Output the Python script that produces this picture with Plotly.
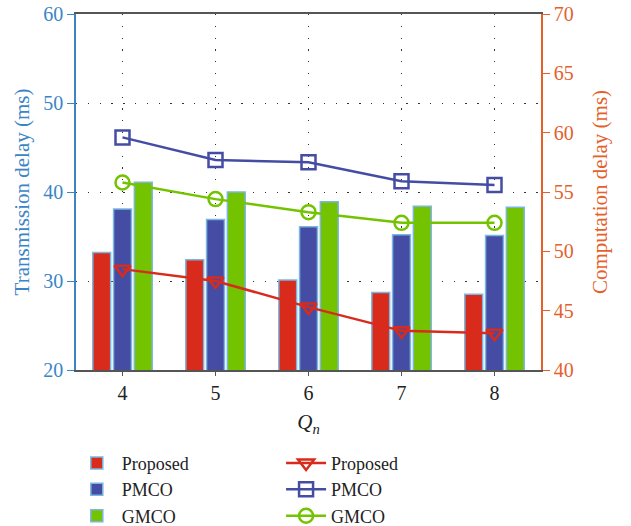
import plotly.graph_objects as go

qn = [4, 5, 6, 7, 8]
tick_labels = ["4", "5", "6", "7", "8"]

# Transmission delay (bars, left axis, ms)
bar_proposed = [33.2, 32.4, 30.1, 28.7, 28.5]
bar_pmco = [38.1, 36.9, 36.1, 35.2, 35.1]
bar_gmco = [41.1, 40.0, 38.9, 38.4, 38.3]

# Computation delay (lines, right axis, ms)
line_proposed = [48.5, 47.5, 45.3, 43.3, 43.1]
line_pmco = [59.6, 57.7, 57.5, 55.9, 55.6]
line_gmco = [55.8, 54.4, 53.3, 52.4, 52.4]

RED = "#d92b1c"
BLUE = "#444ca4"
GREEN = "#74c300"
OUTLINE = "#7ab6df"
LEFTC = "#3b85c6"
RIGHTC = "#e4612b"
FONT = "Liberation Serif"
DOTS = "1.3px,10.5px"

fig = go.Figure()

for name, vals, col in [("Proposed", bar_proposed, RED), ("PMCO", bar_pmco, BLUE), ("GMCO", bar_gmco, GREEN)]:
    fig.add_trace(go.Bar(
        x=qn, y=vals, name=name, marker=dict(color=col, line=dict(color=OUTLINE, width=1.5)),
        yaxis="y", legend="legend"))

for name, vals, col, sym in [("Proposed", line_proposed, RED, "triangle-down-open"),
                             ("PMCO", line_pmco, BLUE, "square-open"),
                             ("GMCO", line_gmco, GREEN, "circle-open")]:
    fig.add_trace(go.Scatter(
        x=qn, y=vals, name=name, mode="lines+markers", yaxis="y2",
        line=dict(color=col, width=2.5),
        marker=dict(symbol=sym, size=14, color=col, line=dict(color=col, width=2.5)),
        legend="legend2"))

fig.update_layout(
    width=631, height=526,
    margin=dict(l=76, r=90, t=14, b=156, autoexpand=False),
    plot_bgcolor="white", paper_bgcolor="white",
    font=dict(family=FONT, size=19, color="#222222"),
    barmode="group", bargap=0.33, bargroupgap=0.14,
    xaxis=dict(
        range=[3.5, 8.5], tickvals=qn, ticktext=tick_labels,
        showline=True, linecolor="#555555", linewidth=1.5, mirror=True,
        ticks="outside", ticklen=4, tickcolor="#555555",
        showgrid=True, gridcolor="#333333", griddash=DOTS, gridwidth=1.2,
        title=dict(text="<i>Q</i><sub><i>n</i></sub>", font=dict(size=21, color="#222222"), standoff=12),
        tickfont=dict(size=20, color="#222222"), zeroline=False, automargin=False),
    yaxis=dict(
        range=[20, 60], dtick=10,
        showline=True, linecolor=LEFTC, linewidth=1.5,
        ticks="outside", ticklen=7, tickcolor=LEFTC,
        tickfont=dict(size=20, color=LEFTC),
        showgrid=True, gridcolor="#333333", griddash=DOTS, gridwidth=1.2,
        title=dict(text="Transmission delay (ms)", font=dict(size=21, color=LEFTC), standoff=8),
        zeroline=False, automargin=False),
    yaxis2=dict(
        range=[40, 70], dtick=5, overlaying="y", side="right",
        showline=True, linecolor=RIGHTC, linewidth=1.5,
        ticks="outside", ticklen=7, tickcolor=RIGHTC,
        tickfont=dict(size=20, color=RIGHTC),
        showgrid=False,
        title=dict(text="Computation delay (ms)", font=dict(size=21, color=RIGHTC), standoff=20),
        zeroline=False, automargin=False),
    legend=dict(x=-0.009, y=-0.21, xanchor="left", yanchor="top",
                font=dict(size=18, color="#222222"), bgcolor="rgba(0,0,0,0)",
                tracegroupgap=0, itemwidth=40),
    legend2=dict(x=0.441, y=-0.21, xanchor="left", yanchor="top",
                 font=dict(size=18, color="#222222"), bgcolor="rgba(0,0,0,0)",
                 tracegroupgap=0, itemwidth=40),
)

fig.write_html("out.html")
